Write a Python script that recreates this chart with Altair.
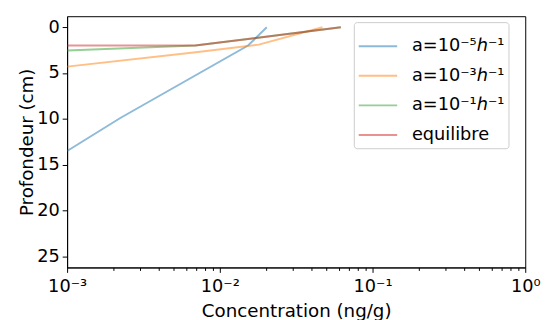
import altair as alt
import pandas as pd

series = ["a=10⁻⁵ℎ⁻¹", "a=10⁻³ℎ⁻¹", "a=10⁻¹ℎ⁻¹", "equilibre"]
colors = ["#1f77b4", "#ff7f0e", "#2ca02c", "#d62728"]

blue_conc = [0.0203, 0.0153, 0.00223, 0.001]
blue_depth = [0.0, 2.0, 9.9, 13.5]
orange_conc = [0.047, 0.018, 0.0072, 0.001]
orange_depth = [0.0, 1.9, 2.7, 4.3]
green_conc = [0.062, 0.0069, 0.001]
green_depth = [0.0, 2.0, 2.55]
red_conc = [0.062, 0.0069, 0.001]
red_depth = [0.0, 2.0, 2.0]

rows = []
for name, cs, ds in zip(series,
                        [blue_conc, orange_conc, green_conc, red_conc],
                        [blue_depth, orange_depth, green_depth, red_depth]):
    for i, (c, d) in enumerate(zip(cs, ds)):
        rows.append({"serie": name, "conc": c, "depth": d, "idx": i})
df = pd.DataFrame(rows)

major = [0.001, 0.01, 0.1, 1]
minor = [m * 10 ** e for e in (-3, -2, -1) for m in range(2, 10)]
xticks = sorted(major + minor)
yticks = [0, 5, 10, 15, 20, 25]

label_expr = ("datum.value == 0.001 ? '10⁻³' : datum.value == 0.01 ? '10⁻²' : "
              "datum.value == 0.1 ? '10⁻¹' : datum.value == 1 ? '10⁰' : ''")

chart = alt.Chart(df).mark_line(strokeWidth=2, opacity=0.5, clip=True).encode(
    x=alt.X("conc:Q",
            scale=alt.Scale(type="log", domain=[0.001, 1], nice=False),
            axis=alt.Axis(title="Concentration (ng/g)", values=xticks,
                          labelExpr=label_expr, labelOverlap=False, labelFlush=False,
                          tickSize={"condition": {"test": "indexof([0.001,0.01,0.1,1], datum.value) >= 0",
                                                  "value": 5}, "value": 3},
                          grid=False, labelFontSize=18, titleFontSize=18.5,
                          labelPadding=5, titlePadding=7)),
    y=alt.Y("depth:Q",
            scale=alt.Scale(domain=[-1.2, 26.2], reverse=True, nice=False, zero=False),
            axis=alt.Axis(title="Profondeur (cm)", values=yticks, grid=False,
                          tickSize=5, labelFontSize=18, titleFontSize=18.5,
                          labelPadding=3, titlePadding=0)),
    color=alt.Color("serie:N", sort=series,
                    scale=alt.Scale(domain=series, range=colors),
                    legend=alt.Legend(title=None, orient="none", legendX=291, legendY=6,
                                      symbolType="stroke", symbolSize=1521,
                                      symbolStrokeWidth=2, symbolOpacity=0.5,
                                      labelFontSize=18, labelOffset=14,
                                      rowPadding=0, padding=4,
                                      strokeColor="#cccccc", cornerRadius=3,
                                      fillColor="white")),
    order=alt.Order("idx:Q"),
).properties(
    width=465, height=255,
    autosize=alt.AutoSizeParams(type="none"),
    padding={"left": 60, "top": 6, "right": 17, "bottom": 51},
).configure_axis(
    labelFont="DejaVu Sans", titleFont="DejaVu Sans",
    labelColor="black", titleColor="black", titleFontWeight="normal",
    domainColor="black", tickColor="black", domainWidth=1,
).configure_legend(
    labelFont="DejaVu Sans", labelColor="black",
).configure_view(
    stroke="black", strokeWidth=1,
)

chart.save("out.html", embed_options={"renderer": "svg", "actions": False})
